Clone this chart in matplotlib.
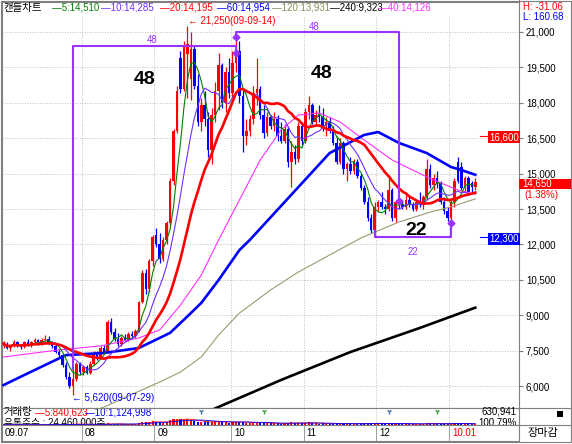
import numpy as np
import pandas as pd
import matplotlib
matplotlib.use('Agg')
import matplotlib.pyplot as plt
from matplotlib.patches import Rectangle
from matplotlib.transforms import blended_transform_factory

plt.rcParams['font.family'] = ['Liberation Sans', 'Noto Sans CJK KR', 'DejaVu Sans']
plt.rcParams['font.size'] = 7

# daily candles 2009-07-01 .. 2010-01-13 (Jul 23, Aug 21, Sep 22, Oct 21, Nov 21, Dec 21, Jan 8 bars)
opens = [7700, 7800, 7600, 7700, 7850, 7700, 7650, 7850, 7750, 7850, 7950, 7800, 7950, 8000, 7850, 7700, 7450, 7300, 6900, 6400, 6000, 6300, 6950,
         6600, 6800, 6550, 6950, 7400, 7200, 7600, 7450, 8700, 8300, 8000, 7800, 8050, 7950, 8200, 8100, 8350, 9550, 10800, 10100, 11300,
         12400, 12000, 11400, 12200, 12900, 14700, 16800, 19900, 18600, 20050, 19000, 20300, 18700, 17200, 17900, 17300, 16000, 17500, 18500, 19600, 18000, 19300,
         18400, 19700, 20200, 18300, 16600, 16800, 17300, 18400, 18600, 17500, 16700, 17400, 17000, 17300, 16600, 16400, 16900, 15500, 15900, 15600, 17000,
         16400, 17600, 17900, 17200, 17500, 17400, 17000, 17200, 16800, 16300, 15500, 16300, 15200, 15400, 15100, 15500, 14900, 14400, 13800, 13100, 12600,
         13600, 13800, 13600, 13500, 14300, 13100, 13800, 13700, 13600, 13900, 13700, 13500, 13800, 13700, 14000, 15200, 14500, 14800, 14600, 13800, 13400,
         13100, 13800, 15500, 15300, 14400, 14800, 14600, 14450]
highs = [7900, 7850, 7750, 7950, 7900, 7800, 7900, 8000, 7900, 8050, 8000, 8050, 8150, 8100, 7900, 7780, 7550, 7350, 7000, 6600, 6700, 7000, 7000,
         6900, 6900, 7050, 7500, 7500, 7700, 7750, 8800, 8900, 8450, 8250, 8100, 8200, 8300, 8350, 8400, 9600, 10900, 10950, 11400, 12400,
         12700, 12500, 12300, 13000, 14800, 16900, 18700, 20200, 20600, 21250, 21000, 20400, 19200, 18200, 18500, 17600, 17800, 18900, 20100, 19700, 19500, 19900,
         20200, 20800, 20600, 18600, 17300, 17500, 18700, 19900, 18700, 17900, 17600, 17500, 17600, 17500, 17200, 17100, 17000, 16400, 16200, 17200, 17200,
         17800, 18300, 18000, 17700, 17900, 17800, 17400, 17400, 17000, 16600, 16500, 16400, 15500, 15700, 15600, 15600, 15000, 14500, 14000, 13300, 13800,
         13900, 14200, 13700, 14800, 14400, 13900, 14000, 13900, 14100, 14100, 13800, 13900, 14200, 14100, 15600, 15400, 15000, 15100, 14700, 14000, 13600,
         13900, 14800, 15700, 15500, 14900, 14900, 14700, 14800]
lows = [7600, 7550, 7500, 7650, 7650, 7550, 7600, 7700, 7650, 7800, 7750, 7750, 7900, 7800, 7600, 7400, 7200, 6800, 6300, 5900, 5620, 6200, 6500,
        6450, 6500, 6500, 6900, 7100, 7150, 7350, 7400, 8200, 7900, 7700, 7700, 7900, 7900, 8000, 8050, 8300, 9500, 9900, 10000, 11100,
        11900, 11200, 11300, 12000, 12800, 14500, 16700, 18400, 18500, 18200, 18100, 18600, 17000, 16800, 17000, 15700, 15400, 17200, 17700, 17800, 17600, 18200,
        18200, 19300, 18000, 15900, 16200, 16600, 17100, 17900, 17300, 16500, 16600, 16900, 16800, 16400, 16300, 16300, 15300, 14450, 15400, 15500, 16200,
        16300, 17300, 17100, 17000, 17200, 16800, 16600, 16700, 16200, 15400, 15400, 15000, 14700, 15000, 15000, 14800, 14300, 13700, 13000, 12500, 12300,
        13400, 13500, 13300, 13400, 13000, 12950, 13500, 13500, 13500, 13600, 13400, 13400, 13600, 13500, 13900, 14400, 14300, 14400, 13700, 13300, 13000,
        12900, 13600, 14600, 14300, 14200, 14100, 14200, 14300]
closes = [7800, 7600, 7700, 7850, 7700, 7650, 7850, 7750, 7850, 7950, 7800, 7950, 8000, 7850, 7700, 7450, 7300, 6900, 6400, 6000, 6300, 6950, 6600,
          6800, 6550, 6950, 7400, 7200, 7600, 7450, 8700, 8300, 8000, 7800, 8050, 7950, 8200, 8100, 8350, 9550, 10800, 10100, 11300, 12300,
          12000, 11400, 12200, 12900, 14700, 16800, 18500, 18600, 20400, 20500, 20300, 18700, 17200, 17900, 17300, 16000, 17500, 18500, 19600, 18000, 19300, 18400,
          19700, 20200, 18300, 16600, 16800, 17300, 18400, 18600, 17500, 16700, 17400, 17000, 17300, 16600, 16400, 16900, 15500, 15900, 15600, 17000, 16400,
          17600, 17900, 17200, 17500, 17400, 17000, 17200, 16800, 16300, 15500, 16300, 15200, 15400, 15100, 15500, 14900, 14400, 13800, 13100, 12600, 13600,
          13800, 13600, 13500, 14300, 13100, 13800, 13700, 13600, 13900, 13700, 13500, 13800, 13700, 14000, 15200, 14500, 14800, 14600, 13800, 13400, 13100,
          13800, 14700, 14700, 14400, 14800, 14200, 14450, 14650]
# volume, thousand shares
volumes = [250, 220, 200, 240, 260, 230, 210, 250, 270, 240, 220, 260, 300, 280, 260, 350, 420, 600, 850, 900, 1100, 800, 600,
           500, 450, 520, 700, 550, 650, 500, 1800, 1200, 900, 700, 650, 600, 700, 650, 800, 2200, 3000, 2400, 2800, 3500,
           3000, 2600, 2200, 2500, 4200, 5200, 6000, 5500, 4800, 5800, 4500, 3800, 3200, 2800, 2600, 3100, 2700, 3300, 3600, 2500, 2900, 2300,
           2600, 3000, 2700, 3200, 2100, 1900, 2400, 2600, 2000, 1900, 1600, 1400, 1500, 1500, 1300, 1400, 2200, 2400, 1700, 2000, 1500,
           2300, 2500, 1700, 1400, 1300, 1400, 1200, 1100, 1100, 1500, 1300, 1300, 1200, 1000, 1100, 1000, 1300, 1500, 1800, 1500, 1300,
           1900, 1400, 1200, 1600, 1300, 1200, 1000, 900, 1000, 850, 800, 900, 850, 1000, 2200, 1500, 1100, 900, 1000, 1100, 1200,
           1300, 1800, 2000, 1400, 1000, 900, 800, 631]

# long moving averages (bar index, price)
ma40_bar = [0, 16, 28, 39, 45, 51, 57, 62, 68, 74, 80, 85, 91, 97, 104, 112, 122, 131, 136]
ma40_val = [7230, 7530, 7700, 8035, 8375, 9430, 10700, 12190, 13880, 15580, 16850, 17480, 17570, 17190, 16420, 15580, 14860, 14300, 14130]
ma60_bar = [0, 9, 18, 29, 39, 48, 54, 57, 62, 68, 71, 85, 94, 104, 108, 114, 122, 129, 132, 136]
ma60_val = [6040, 6680, 7310, 7400, 7610, 8250, 9090, 9520, 10490, 11760, 12190, 14430, 15870, 16640, 16760, 16300, 15870, 15280, 15150, 14950]
ma120_bar = [25, 29, 36, 45, 51, 57, 62, 68, 77, 85, 94, 103, 114, 123, 129, 136]
ma120_val = [4900, 5110, 5580, 6170, 6590, 7230, 8160, 9090, 10070, 10830, 11550, 12270, 12950, 13370, 13590, 13930]
ma240_bar = [58, 80, 100, 120, 136]
ma240_val = [4860, 6255, 7440, 8460, 9320]

month_start = [0, 23, 44, 66, 87, 108, 129]
month_lbl = ['09.07', '08', '09', '10', '11', '12', '10.01']

ma_text = ['5:14,510', '10:14,285', '20:14,195', '60:14,954', '120:13,931', '240:9,323', '40:14,126']
ma_col = ['#008000', '#7030ff', '#ff0000', '#0000ff', '#8c8c5a', '#000000', '#ff30ff']

# cycle boxes: (bar, price) corners
box1_x = [20, 20, 67, 67]
box1_y = [6700, 20400, 20400, 20110]
box2_x = [67, 67, 114, 114]
box2_y = [20790, 21000, 21000, 13860]
box3_x = [107, 107, 129, 129]
box3_y = [12550, 12300, 12300, 12900]

hi_mark, lo_mark = 16600, 12300

W, H = 572, 444
def fx(px):
    return px / W
def fy(py):
    return 1 - py / H

o = np.array(opens); h = np.array(highs); l = np.array(lows); c = np.array(closes)
v = np.array(volumes) * 1000
n = len(c)
idx = np.arange(n)
up = c >= o
col = np.where(up, '#ff0000', '#0000ff')

fig = plt.figure(figsize=(W / 100, H / 100), dpi=100)
fig.patch.set_facecolor('white')

ax = fig.add_axes([fx(2), fy(408), fx(519) - fx(2), fy(2) - fy(408)])
axv = fig.add_axes([fx(2), fy(425), fx(519) - fx(2), fy(408) - fy(425)], sharex=ax)
axd = fig.add_axes([fx(2), fy(441), fx(519) - fx(2), fy(425) - fy(441)], sharex=ax)

grid_kw = dict(ls=(0, (1, 2)), color='#a8a8a8', lw=0.6, zorder=0)
for a in (ax, axv, axd):
    for s in a.spines.values():
        s.set_color('#7f7f7f')
        s.set_linewidth(0.8)

# price pane
ax.vlines(idx, l, h, colors=col, lw=0.9, zorder=2)
ax.bar(idx, np.maximum(np.abs(c - o), 45), bottom=np.minimum(o, c), width=0.72, color=col, lw=0, zorder=2)

cs = pd.Series(c)
ax.plot(idx, cs.rolling(5, min_periods=1).mean(), color=ma_col[0], lw=0.8, zorder=4)
ax.plot(idx, cs.rolling(10, min_periods=1).mean(), color=ma_col[1], lw=0.8, zorder=4)
ax.plot(idx, cs.rolling(20, min_periods=1).mean(), color=ma_col[2], lw=1.9, zorder=4)
ax.plot(ma40_bar, ma40_val, color=ma_col[6], lw=0.8, zorder=3)
ax.plot(ma60_bar, ma60_val, color=ma_col[3], lw=1.9, zorder=3)
ax.plot(ma120_bar, ma120_val, color='#9a9a70', lw=0.8, zorder=3)
ax.plot(ma240_bar, ma240_val, color=ma_col[5], lw=1.9, zorder=3)

ax.set_xlim(-0.45, 148.6)
ax.set_ylim(5068, 22271)
yt = np.arange(6000, 21001, 1500)
ax.set_yticks(yt)
ax.set_yticklabels([f'{t:,}' for t in yt])
ax.yaxis.tick_right()
ax.tick_params(axis='y', length=3, pad=2, color='#7f7f7f', labelsize=7)
ax.tick_params(axis='x', bottom=False, labelbottom=False)
for t in yt:
    ax.axhline(t, **grid_kw)
for m in month_start[1:]:
    ax.axvline(m - 0.5, ymax=0.965, **grid_kw)

# cycle boxes
pc = '#9933ff'
ax.plot(box1_x, box1_y, color=pc, lw=1.5, zorder=5)
ax.plot(box2_x, box2_y, color=pc, lw=1.5, zorder=5)
ax.plot(box3_x, box3_y, color=pc, lw=1.5, zorder=5)
ax.plot([box1_x[-1], box2_x[0], box2_x[-1], box3_x[-1]], [box1_y[-1], box2_y[0], box2_y[-1], box3_y[-1]],
        ls='none', marker='D', ms=3.5, color=pc, zorder=6)
ax.text(42.8, 20660, '48', color=pc, fontsize=7, ha='center', va='center')
ax.text(89.5, 21220, '48', color=pc, fontsize=7, ha='center', va='center')
ax.text(118, 11680, '22', color=pc, fontsize=7, ha='center', va='center')
ax.text(40.8, 18970, '48', fontsize=14, fontweight='bold', ha='center', va='center', zorder=7)
ax.text(91.8, 19260, '48', fontsize=14, fontweight='bold', ha='center', va='center', zorder=7)
ax.text(119, 12570, '22', fontsize=14, fontweight='bold', ha='center', va='center', zorder=7)

i_hi = int(np.argmax(h)); i_lo = int(np.argmin(l))
ax.text(i_hi + 0.2, 21480, f'\u2190 {h[i_hi]:,}(09-09-14)', color='#ff0000', fontsize=7, va='center', zorder=7)
ax.text(i_lo - 0.2, 5480, f'\u2190 {l[i_lo]:,}(09-07-29)', color='#0000ff', fontsize=7, va='center', zorder=7)

# right-edge markers
ax.plot([n + 0.3, 140.2], [hi_mark, hi_mark], color='#ff0000', lw=0.8)
ax.plot([n + 0.3, 140.2], [lo_mark, lo_mark], color='#0000ff', lw=0.8)
ax.text(148.55, hi_mark - 60, f'{hi_mark:,}', color='white', fontsize=7, ha='right', va='center',
        bbox=dict(boxstyle='square,pad=0.12', fc='#ff0000', ec='none'), zorder=8)
ax.text(148.55, lo_mark - 60, f'{lo_mark:,}', color='white', fontsize=7, ha='right', va='center',
        bbox=dict(boxstyle='square,pad=0.12', fc='#0000ff', ec='none'), zorder=8)

# legend row
leg_x = [52, 101, 160, 217, 272, 330, 378]
fig.text(fx(3), fy(8), '캔들차트', fontsize=7.5, va='center')
for txt, cc, x in zip(ma_text, ma_col, leg_x):
    fig.text(fx(x), fy(8), '\u2014' + txt, color=cc, fontsize=7, va='center')

# right strip: last price box
bt = blended_transform_factory(ax.transAxes, ax.transData)
last = c[-1]
pct = (c[-1] / c[-2] - 1) * 100
ax.add_patch(Rectangle((1.0, last - 300), 52 / 517, 440, transform=bt, fc='#ff0000', ec='none', clip_on=False, zorder=9))
ax.text(1.0 + 3 / 517, last - 80, f'{last:,}', transform=bt, color='white', fontsize=7, va='center', clip_on=False, zorder=10)
ax.text(1.0 + 5 / 517, last - 560, f'({pct:.2f}%)', transform=bt, color='#ff0000', fontsize=7, va='center', clip_on=False)
fig.text(fx(523), fy(7), 'H: -31.06', color='#ff0000', fontsize=7, va='center')
fig.text(fx(523), fy(16.5), 'L: 160.68', color='#0000ff', fontsize=7, va='center')

# volume pane
axv.bar(idx, v, width=0.6, color=col, lw=0, zorder=3)
vs = pd.Series(v)
axv.plot(idx, vs.rolling(5, min_periods=1).mean(), color='#ff0000', lw=0.6, zorder=3)
axv.plot(idx, vs.rolling(10, min_periods=1).mean(), color='#0000ff', lw=0.6, zorder=3)
axv.set_ylim(0, v.max() / 0.38)
axv.set_yticks([]); axv.tick_params(axis='x', bottom=False, labelbottom=False)
for m in month_start[1:]:
    axv.axvline(m - 0.5, **grid_kw)
vt = axv.transAxes
axv.text(0.003, 0.74, '거래량', transform=vt, fontsize=7.5, va='center', zorder=1)
axv.text(0.064, 0.74, '\u20145:840,623', transform=vt, color='#ff0000', fontsize=7, va='center', zorder=1)
axv.text(0.160, 0.74, '\u201410:1,124,998', transform=vt, color='#0000ff', fontsize=7, va='center', zorder=1)
axv.text(0.003, 0.12, '유통주수 : 24,460,000주', transform=vt, fontsize=7, va='center', zorder=1, clip_on=True)
axv.text(0.995, 0.78, '630,941', transform=vt, fontsize=7, ha='right', va='center')
axv.text(0.995, 0.12, '100.79%', transform=vt, fontsize=7, ha='right', va='center', clip_on=True)
bv = blended_transform_factory(axv.transData, axv.transAxes)
axv.plot([57, 111], [0.82, 0.82], transform=bv, ls='none', marker='1', ms=4, color='#4a6fa5')
axv.plot([75, 125], [0.82, 0.82], transform=bv, ls='none', marker='1', ms=4, color='#3aa03a')

# date strip
axd.set_yticks([]); axd.tick_params(axis='x', bottom=False, labelbottom=False)
for m, lbl in zip(month_start, month_lbl):
    if m > 0:
        axd.axvline(m - 0.5, color='#a0a0a0', lw=0.7)
    axd.text(m + 0.4 if m > 0 else 0.2, 0.5, lbl, transform=blended_transform_factory(axd.transData, axd.transAxes),
             fontsize=7, va='center', color='#ff0000' if lbl == '10.01' else 'black')

# frame bits in the right strip
for y in (408, 425):
    fig.add_artist(plt.Line2D([fx(519), fx(571)], [fy(y), fy(y)], color='#7f7f7f', lw=0.8))
fig.add_artist(plt.Line2D([fx(519), fx(519)], [fy(0), fy(2)], color='#7f7f7f', lw=0.8))
fig.add_artist(Rectangle((fx(1), fy(442)), fx(570), fy(1) - fy(442), fill=False, ec='#7f7f7f', lw=0.8))
fig.add_artist(Rectangle((fx(557), fy(417)), fx(6), fy(411) - fy(417), fc='black', ec='none'))
fig.text(fx(543), fy(433), '장마감', fontsize=8, ha='center', va='center')

fig.savefig('out.png', dpi=100)
